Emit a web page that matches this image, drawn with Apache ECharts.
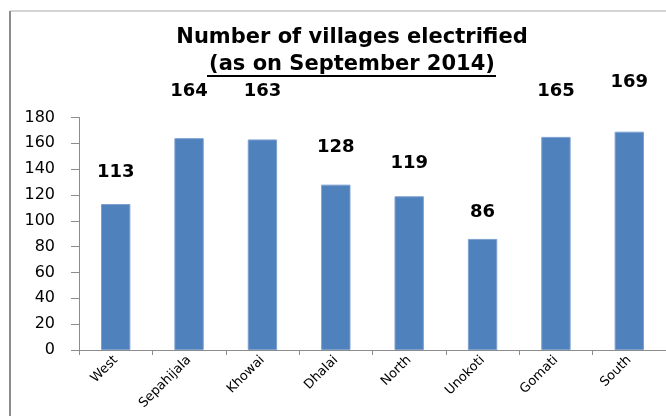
<!DOCTYPE html>
<html>
<head>
<meta charset="utf-8">
<script src="https://cdn.jsdelivr.net/npm/echarts@6/dist/echarts.min.js"></script>
<style>
  html, body { margin: 0; padding: 0; background: #fff; }
  #main { width: 666px; height: 416px; }
</style>
</head>
<body>
<div id="main"></div>
<script>
// 数据
var districts = ["West", "Sepahijala", "Khowai", "Dhalai", "North", "Unokoti", "Gomati", "South"];
var villages = [113, 164, 163, 128, 119, 86, 165, 169];
var yTicks = { min: 0, max: 180, step: 20 };

// label gap above each bar (the original labels were placed by hand)
var labelGap = [23, 38, 39, 28, 24, 18, 37, 40];

var chart = echarts.init(document.getElementById('main'));

var barData = villages.map(function (v, i) {
    return { value: v, label: { distance: labelGap[i] } };
});

var option = {
    backgroundColor: '#fff',
    animation: false,
    title: {
        text: 'Number of villages electrified',
        subtext: '(as on September 2014)',
        left: 347,
        top: 22,
        textAlign: 'center',
        itemGap: 6,
        textStyle: { fontFamily: 'DejaVu Sans', fontSize: 21, fontWeight: 'bold', color: '#000' },
        subtextStyle: { fontFamily: 'DejaVu Sans', fontSize: 21, fontWeight: 'bold', color: '#000' }
    },
    graphic: [
        // 外框
        { type: 'line', shape: { x1: 10, y1: 11, x2: 666, y2: 11 }, style: { stroke: '#d4d4d4', lineWidth: 2 } },
        { type: 'line', shape: { x1: 10, y1: 11, x2: 10, y2: 416 }, style: { stroke: '#8c8c8c', lineWidth: 2 } },
        // 副标题下划线
        { type: 'line', shape: { x1: 207, y1: 76, x2: 496, y2: 76 }, style: { stroke: '#000', lineWidth: 2 } }
    ],
    grid: { left: 79, top: 117.5, width: 590, bottom: 66 },
    xAxis: {
        type: 'category',
        data: districts,
        axisLine: { lineStyle: { color: '#8c8c8c' } },
        axisTick: { show: true, length: 5, lineStyle: { color: '#8c8c8c' } },
        axisLabel: {
            rotate: 45, interval: 0, margin: 8,
            fontFamily: 'DejaVu Sans', fontSize: 13, color: '#000'
        }
    },
    yAxis: {
        type: 'value',
        min: yTicks.min,
        max: yTicks.max,
        interval: yTicks.step,
        splitLine: { show: false },
        axisLine: { show: true, lineStyle: { color: '#8c8c8c' } },
        axisTick: { show: true, length: 8, lineStyle: { color: '#8c8c8c' } },
        axisLabel: { margin: 24, fontFamily: 'DejaVu Sans', fontSize: 16, color: '#000' }
    },
    series: [{
        type: 'bar',
        data: barData,
        barWidth: '40%',
        itemStyle: { color: '#4f81bd', borderColor: '#7c9fd0', borderWidth: 1 },
        label: {
            show: true,
            position: 'top',
            fontFamily: 'DejaVu Sans',
            fontSize: 18,
            fontWeight: 'bold',
            color: '#000'
        }
    }]
};

chart.setOption(option);
</script>
</body>
</html>
